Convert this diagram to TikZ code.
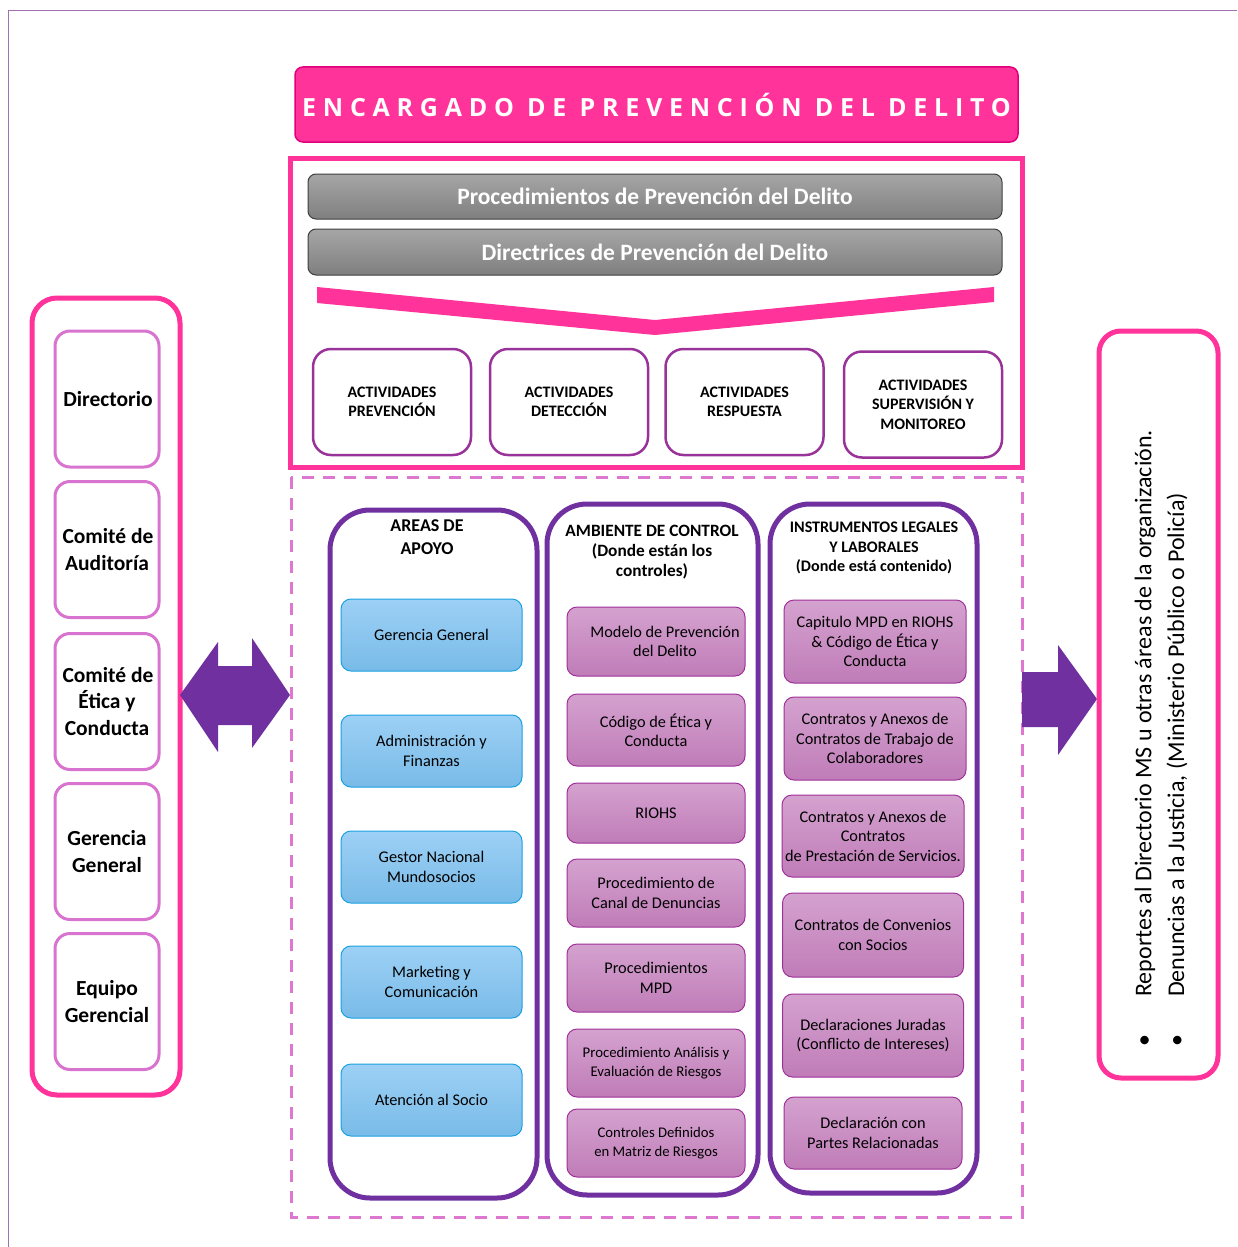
\documentclass[tikz,border=0pt]{standalone}
\usepackage{fontspec}
\setmainfont{Carlito}
\newfontfamily\titlefont[LetterSpace=27]{Open Sans}
\definecolor{pinkc}{HTML}{FF3399}
\definecolor{titleborder}{HTML}{E0007A}
\definecolor{orchidc}{HTML}{D873CF}
\definecolor{dashc}{HTML}{DD77D0}
\definecolor{actc}{HTML}{993399}
\definecolor{arrowc}{HTML}{7030A0}
\definecolor{framec}{HTML}{A070B0}
\definecolor{graytop}{HTML}{A6A6A6}
\definecolor{graybot}{HTML}{7F7F7F}
\definecolor{grayborder}{HTML}{3F3F3F}
\definecolor{bluetop}{HTML}{9DD0F5}
\definecolor{bluebot}{HTML}{78BBE8}
\definecolor{blueborder}{HTML}{1BA1E2}
\definecolor{ptop}{HTML}{D4A2CF}
\definecolor{pbot}{HTML}{C07CB8}
\definecolor{pborder}{HTML}{A0309A}
\begin{document}
\begin{tikzpicture}[x=1pt,y=-1pt,
  graybar/.style={draw=grayborder, line width=1pt, rounded corners=8pt, top color=graytop, bottom color=graybot, minimum width=694pt, minimum height=45pt, text=white, font=\bfseries\fontsize{23.5}{26}\selectfont},
  actbox/.style={draw=actc, line width=2.5pt, rounded corners=18pt, fill=white, minimum width=158pt, minimum height=106pt, align=center, font=\bfseries\fontsize{16}{19.5}\selectfont},
  leftbox/.style={draw=orchidc, line width=3pt, rounded corners=15pt, fill=white, minimum width=104pt, minimum height=136pt, inner xsep=0pt, align=center, font=\bfseries\fontsize{21.5}{26.5}\selectfont},
  colbox/.style={draw=arrowc, line width=5pt, rounded corners=40pt, fill=white},
  coltitle/.style={align=center},
  bluebox/.style={draw=blueborder, line width=1pt, rounded corners=10pt, top color=bluetop, bottom color=bluebot, minimum width=181pt, minimum height=72pt, align=center, font=\fontsize{16.3}{19.5}\selectfont},
  pbox/.style={draw=pborder, line width=1pt, rounded corners=10pt, top color=ptop, bottom color=pbot, inner xsep=1pt, align=center, font=\fontsize{16.3}{19.5}\selectfont},
  rtext/.style={rotate=90, anchor=west, font=\fontsize{24}{28}\selectfont, inner sep=0pt}
]
\useasboundingbox (0,0) rectangle (1237,1247);
% page frame lines
\draw[framec, line width=1pt] (8,1247) -- (8,11) -- (1237,11);

% title
\node[draw=titleborder, fill=pinkc, line width=1.5pt, rounded corners=8pt, minimum width=723pt, minimum height=75pt, inner xsep=0pt, text=white, font=\titlefont\bfseries\fontsize{25}{28}\selectfont] (title) at (656.5,104.5) {ENCARGADO DE PREVENCIÓN DEL DELITO};

% pink frame
\node[draw=pinkc, line width=5pt, minimum width=732pt, minimum height=309pt] (frame) at (656,312.5) {};
\node[graybar] (proc) at (655,196.5) {Procedimientos de Prevención del Delito};
\node[graybar, minimum height=46pt] (dir) at (655,252) {Directrices de Prevención del Delito};
\fill[pinkc] (317,287) -- (655,320) -- (994,287) -- (994,302) -- (655,335) -- (317,303) -- cycle;

\node[actbox] (a1) at (392,402) {ACTIVIDADES\\PREVENCIÓN};
\node[actbox] (a2) at (569,402) {ACTIVIDADES\\DETECCIÓN};
\node[actbox] (a3) at (744.5,402) {ACTIVIDADES\\RESPUESTA};
\node[actbox] (a4) at (923,404.5) {ACTIVIDADES\\SUPERVISIÓN Y\\MONITOREO};

% dashed area
\draw[dashc, line width=3pt, dash pattern=on 12pt off 9pt] (291,477) rectangle (1022,1217);

% left column
\node[draw=pinkc, line width=5pt, rounded corners=25pt, minimum width=148pt, minimum height=797pt] (leftcol) at (106,696.5) {};
\node[leftbox] (l1) at (107,399) {\hspace*{2pt}Directorio};
\node[leftbox] (l2) at (107,549.5) {\hspace*{2pt}Comité de\\Auditoría};
\node[leftbox] (l3) at (107,701.5) {\hspace*{2pt}Comité de\\Ética y\\Conducta};
\node[leftbox] (l4) at (107,851.5) {Gerencia\\General};
\node[leftbox] (l5) at (107,1001.5) {Equipo\\Gerencial};

% double arrow
\fill[arrowc] (180,695) -- (218,642) -- (218,666) -- (252,666) -- (252,638) -- (290,695) -- (252,748) -- (252,725) -- (218,725) -- (218,752) -- cycle;

% right arrow
\fill[arrowc] (1022,672) -- (1058,672) -- (1058,645) -- (1097,699) -- (1058,755) -- (1058,727) -- (1022,727) -- cycle;

% right box
\node[draw=pinkc, line width=5pt, rounded corners=22pt, minimum width=119pt, minimum height=747pt] (rightbox) at (1158.5,704.5) {};
\node[rtext] (r1) at (1145,1047) {\makebox[50pt][l]{•}Reportes al Directorio MS u otras áreas de la organización.};
\node[rtext] (r2) at (1177,1047) {\makebox[50pt][l]{•}Denuncias a la Justicia, (Ministerio Público o Policía)};

% columns
\node[colbox, minimum width=207pt, minimum height=688pt] (c1) at (433.5,854) {};
\node[colbox, minimum width=211pt, minimum height=691pt] (c2) at (652.5,849.5) {};
\node[colbox, minimum width=207pt, minimum height=689pt] (c3) at (873.5,848.5) {};

\node[coltitle, font=\bfseries\fontsize{18}{23}\selectfont] (t1) at (427,537) {AREAS DE\\APOYO};
\node[coltitle, font=\bfseries\fontsize{17.3}{20}\selectfont] (t2) at (652,552) {AMBIENTE DE CONTROL\\(Donde están los\\controles)};
\node[coltitle, font=\bfseries\fontsize{16.1}{19.5}\selectfont] (t3) at (874,548) {INSTRUMENTOS LEGALES\\Y LABORALES\\(Donde está contenido)};

% blue boxes
\node[bluebox] (b1) at (431.5,635) {Gerencia General};
\node[bluebox] (b2) at (431.5,751) {Administración y\\Finanzas};
\node[bluebox] (b3) at (431.5,867) {Gestor Nacional\\Mundosocios};
\node[bluebox] (b4) at (431.5,982) {Marketing y\\Comunicación};
\node[bluebox] (b5) at (431.5,1100) {Atención al Socio};

% column 2 boxes
\node[pbox, minimum width=178pt, minimum height=69pt] (m1) at (656,641.5) {\hspace*{18pt}Modelo de Prevención\\\hspace*{18pt}del Delito};
\node[pbox, minimum width=178pt, minimum height=72pt] (m2) at (656,730) {Código de Ética y\\Conducta};
\node[pbox, minimum width=178pt, minimum height=60pt] (m3) at (656,813) {RIOHS};
\node[pbox, minimum width=178pt, minimum height=68pt] (m4) at (656,893) {Procedimiento de\\Canal de Denuncias};
\node[pbox, minimum width=178pt, minimum height=68pt] (m5) at (656,978) {Procedimientos\\MPD};
\node[pbox, minimum width=178pt, minimum height=68pt, font=\fontsize{14.8}{18.5}\selectfont] (m6) at (656,1063) {Procedimiento Análisis y\\Evaluación de Riesgos};
\node[pbox, minimum width=178pt, minimum height=68pt, font=\fontsize{14.7}{19}\selectfont] (m7) at (656,1143) {Controles Definidos\\en Matriz de Riesgos};

% column 3 boxes
\node[pbox, minimum width=182pt, minimum height=83pt] (i1) at (875,641.5) {Capitulo MPD en RIOHS\\\& Código de Ética y\\Conducta};
\node[pbox, minimum width=182pt, minimum height=83pt] (i2) at (875,738.5) {Contratos y Anexos de\\Contratos de Trabajo de\\Colaboradores};
\node[pbox, minimum width=182pt, minimum height=82pt] (i3) at (873,836) {Contratos y Anexos de\\Contratos\\de Prestación de Servicios.};
\node[pbox, minimum width=181pt, minimum height=84pt] (i4) at (873,935) {Contratos de Convenios\\con Socios};
\node[pbox, minimum width=181pt, minimum height=83pt] (i5) at (873,1035.5) {Declaraciones Juradas\\(Conflicto de Intereses)};
\node[pbox, minimum width=178pt, minimum height=72pt] (i6) at (873,1133) {Declaración con\\Partes Relacionadas};
\end{tikzpicture}
\end{document}
